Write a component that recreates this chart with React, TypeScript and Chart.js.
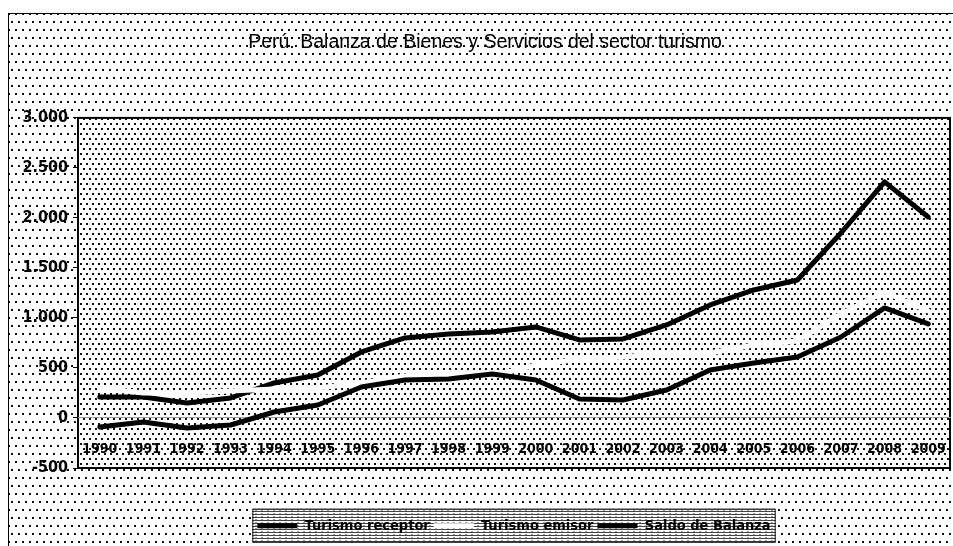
import React, { useEffect, useRef } from "react";
import { Chart, registerables } from "chart.js";

Chart.register(...registerables);

const years = ["1990", "1991", "1992", "1993", "1994", "1995", "1996", "1997", "1998", "1999", "2000", "2001", "2002", "2003", "2004", "2005", "2006", "2007", "2008", "2009"];
const turismoReceptor = [210, 210, 150, 200, 350, 430, 660, 800, 840, 860, 910, 780, 790, 930, 1130, 1280, 1380, 1850, 2360, 2010];
const turismoEmisor = [300, 250, 250, 270, 290, 300, 350, 420, 450, 420, 530, 590, 610, 650, 650, 730, 770, 1040, 1260, 1070];
const saldoBalanza = [-90, -40, -100, -70, 60, 130, 310, 380, 390, 440, 380, 190, 180, 280, 480, 550, 610, 810, 1100, 940];
const seriesNames = ["Turismo receptor", "Turismo emisor", "Saldo de Balanza"];
const seriesColors = ["#000000", "#ffffff", "#000000"];
const titleText = "Perú: Balanza de Bienes y Servicios del sector turismo";
const yMin = -500;
const yMax = 3000;
const yStep = 500;

const NARROW = "'Liberation Sans Narrow', 'Arial Narrow', 'DejaVu Sans Condensed', sans-serif";
const SANS = "'Liberation Sans', Arial, sans-serif";

function fmt(v: number): string {
  const s = String(Math.abs(v)).replace(/\B(?=(\d{3})+(?!\d))/g, ".");
  return (v < 0 ? "-" : "") + s;
}

function makeTile(w: number, h: number, draw: (c: CanvasRenderingContext2D) => void) {
  const c = document.createElement("canvas");
  c.width = w;
  c.height = h;
  const x = c.getContext("2d")!;
  x.fillStyle = "#fff";
  x.fillRect(0, 0, w, h);
  draw(x);
  return c;
}

const shiftPlugin = {
  id: "shiftPlugin",
  afterLayout(chart: any) {
    if (chart.legend) {
      chart.legend.left += 35;
      chart.legend.right += 35;
    }
    if (chart.titleBlock) {
      chart.titleBlock.left += 6;
      chart.titleBlock.right += 6;
    }
  },
};

const bgPlugin = {
  id: "bgPlugin",
  beforeDraw(chart: any) {
    const { ctx, width, height, chartArea: a } = chart;
    const outerTile = makeTile(7, 16, (c) => {
      c.fillStyle = "#111";
      c.fillRect(0, 0, 2, 2);
      c.fillRect(3, 8, 2, 2);
    });
    const innerTile = makeTile(6, 10, (c) => {
      c.fillStyle = "#111";
      c.fillRect(0, 0, 2, 2);
      c.fillRect(3, 5, 2, 2);
    });
    const legendTile = makeTile(6, 3, (c) => {
      c.fillStyle = "#444";
      c.fillRect(0, 0, 6, 1);
      c.fillStyle = "#999";
      c.fillRect(1, 2, 2, 1);
    });
    ctx.save();
    ctx.fillStyle = "#fff";
    ctx.fillRect(0, 0, width, height);
    ctx.fillStyle = ctx.createPattern(outerTile, "repeat");
    ctx.fillRect(0, 0, width, height);
    ctx.fillStyle = "#000";
    ctx.fillRect(0, 0, width, 1);
    ctx.fillRect(0, 0, 1, height);
    ctx.fillStyle = "#fff";
    ctx.fillRect(a.left, a.top, a.right - a.left, a.bottom - a.top);
    ctx.fillStyle = ctx.createPattern(innerTile, "repeat");
    ctx.fillRect(a.left, a.top, a.right - a.left, a.bottom - a.top);
    ctx.strokeStyle = "#000";
    ctx.lineWidth = 2;
    ctx.strokeRect(a.left, a.top, a.right - a.left, a.bottom - a.top);
    const hb = chart.legend && chart.legend.legendHitBoxes;
    if (hb && hb.length) {
      const l = Math.min(...hb.map((h: any) => h.left)) - 5;
      const r = Math.max(...hb.map((h: any) => h.left + h.width)) + 5;
      const cy = hb[0].top + hb[0].height / 2;
      ctx.fillStyle = "#fff";
      ctx.fillRect(l, cy - 17, r - l, 34);
      ctx.fillStyle = ctx.createPattern(legendTile, "repeat");
      ctx.fillRect(l, cy - 17, r - l, 34);
      ctx.strokeStyle = "#000";
      ctx.lineWidth = 1;
      ctx.strokeRect(l + 0.5, cy - 16.5, r - l - 1, 33);
    }
    ctx.restore();
  },
};

export default function App() {
  const ref = useRef<HTMLCanvasElement>(null);
  useEffect(() => {
    if (!ref.current) return;
    const chart = new Chart(ref.current, {
      type: "line",
      data: {
        labels: years,
        datasets: [
          { label: seriesNames[0], data: turismoReceptor, borderColor: seriesColors[0], backgroundColor: seriesColors[0], order: 3 },
          { label: seriesNames[1], data: turismoEmisor, borderColor: seriesColors[1], backgroundColor: seriesColors[1], order: 2 },
          { label: seriesNames[2], data: saldoBalanza, borderColor: seriesColors[2], backgroundColor: seriesColors[2], order: 1 },
        ].map((d) => ({ ...d, borderWidth: 5, pointRadius: 0, tension: 0, borderJoinStyle: "round" as const, borderCapStyle: "round" as const, fill: false })),
      },
      options: {
        responsive: false,
        animation: false,
        devicePixelRatio: 1,
        layout: { padding: { left: 0, right: 3, top: 0, bottom: 3 } },
        plugins: {
          title: {
            display: true,
            text: titleText,
            color: "#000",
            font: { family: SANS, size: 19.5, weight: "normal", lineHeight: 1.2 },
            padding: { top: 18, bottom: 63.5 },
          },
          legend: {
            position: "bottom",
            title: { display: true, text: "", font: { size: 10, lineHeight: 1.2 }, padding: { top: 34.5, bottom: 0 } },
            labels: {
              color: "#000",
              font: { family: NARROW, size: 14.5, weight: "bold" },
              boxWidth: 40,
              boxHeight: 5,
              padding: 4,
              generateLabels: (ch: any) =>
                ch.data.datasets.map((ds: any, i: number) => ({
                  text: ds.label,
                  fillStyle: ds.borderColor,
                  strokeStyle: ds.borderColor,
                  lineWidth: 0,
                  hidden: false,
                  datasetIndex: i,
                  fontColor: "#000",
                })),
            },
          },
          tooltip: { enabled: false },
        },
        scales: {
          x: {
            type: "category",
            position: { y: 0 } as any,
            offset: true,
            grid: { display: false, drawTicks: true, tickLength: 21 },
            border: { display: true, color: "#9a9a9a", width: 1 },
            ticks: { color: "#000", font: { family: NARROW, size: 14, weight: "bold" }, padding: 2, maxRotation: 0, autoSkip: false },
          },
          y: {
            min: yMin,
            max: yMax,
            ticks: { stepSize: yStep, color: "#000", font: { family: NARROW, size: 16, weight: "bold" }, padding: 5, callback: (v: any) => fmt(Number(v)) },
            grid: { display: true, drawOnChartArea: false, drawTicks: true, tickLength: 5, color: "#000" },
            border: { display: false },
            afterFit: (s: any) => {
              s.width = 70;
            },
          },
        },
      },
      plugins: [shiftPlugin, bgPlugin],
    });
    return () => chart.destroy();
  }, []);
  return (
    <div style={{ position: "fixed", left: 8, top: 13, width: 945, height: 533 }}>
      <canvas ref={ref} width={945} height={533} style={{ display: "block" }} />
    </div>
  );
}
